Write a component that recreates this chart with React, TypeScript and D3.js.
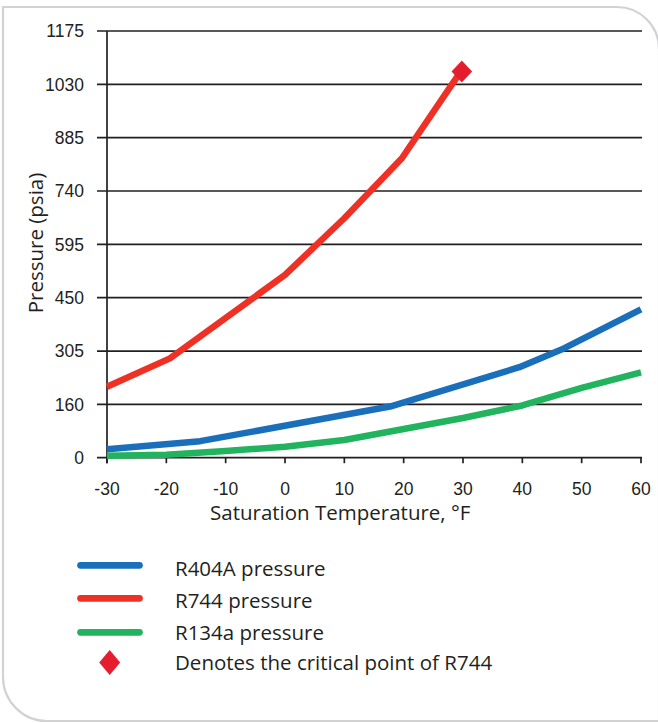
import React, { useEffect, useRef } from 'react'
import * as d3 from 'd3'

// x axis ticks (°F)
const tempTicks = [-30, -20, -10, 0, 10, 20, 30, 40, 50, 60]
// y axis ticks: uniform 145 psia steps, the bottom one is printed as "0"
const pressureTicks = [15, 160, 305, 450, 595, 740, 885, 1030, 1175]
const pressureLabels = ['0', '160', '305', '450', '595', '740', '885', '1030', '1175']

// series
const r404aTemp = [-30, -14.3, 17.7, 39.5, 47, 60]
const r404aPsia = [38, 60, 154, 261, 312, 418]

const r744Temp = [-30, -19.4, 0, 10, 19.7, 29.2]
const r744Psia = [208, 285, 512, 666, 829, 1055]

const r134aTemp = [-30, -20, -10, 0, 10, 20, 30, 40, 50, 60]
const r134aPsia = [20, 23, 33, 45, 63, 93, 123, 157, 205, 247]

const criticalTemp = [29.8]
const criticalPsia = [1065]

const seriesNames = ['R404A pressure', 'R744 pressure', 'R134a pressure']
const seriesColors = ['#1a6fba', '#ee3124', '#22b35e']
const criticalLabel = 'Denotes the critical point of R744'
const criticalColor = '#e41e2f'

const W = 658
const H = 723

const App = () => {
    const svgRef = useRef<SVGSVGElement>(null)

    useEffect(() => {
        const svg: any = d3.select(svgRef.current)
        svg.selectAll('*').remove()

        const x = d3.scaleLinear([-30, 60], [107, 641])
        const y = d3.scaleLinear([15, 1175], [457.7, 31])
        const ink = '#231f20'
        const tickFont = '"Liberation Sans", Arial, sans-serif'
        const textFont = '"Open Sans", sans-serif'

        // card border, rounded at top-right and bottom-left
        svg.append('path')
            .attr('d', 'M3,7 H617 A42,42 0 0 1 659,49 V721 H47 A44,44 0 0 1 3,677 Z')
            .attr('fill', '#fff')
            .attr('stroke', '#d1d2d4')
            .attr('stroke-width', 2.2)

        // horizontal gridlines (with the short tick on the left)
        svg.append('g')
            .selectAll('line')
            .data(pressureTicks)
            .join('line')
            .attr('x1', 97)
            .attr('x2', x(60) + 1)
            .attr('y1', (d: number) => y(d))
            .attr('y2', (d: number) => y(d))
            .attr('stroke', ink)
            .attr('stroke-width', 1.7)

        // y axis line
        svg.append('line')
            .attr('x1', x(-30)).attr('x2', x(-30))
            .attr('y1', y(1175)).attr('y2', y(15) + 5.5)
            .attr('stroke', ink)
            .attr('stroke-width', 1.7)

        // x ticks
        svg.append('g')
            .selectAll('line')
            .data(tempTicks)
            .join('line')
            .attr('x1', (d: number) => x(d))
            .attr('x2', (d: number) => x(d))
            .attr('y1', y(15))
            .attr('y2', y(15) + 5.5)
            .attr('stroke', ink)
            .attr('stroke-width', 1.7)

        // y labels
        svg.append('g')
            .selectAll('text')
            .data(pressureTicks)
            .join('text')
            .attr('x', 84)
            .attr('y', (d: number) => y(d))
            .attr('dy', '0.36em')
            .attr('text-anchor', 'end')
            .attr('font-family', tickFont)
            .attr('font-size', 17.5)
            .attr('fill', ink)
            .text((_: number, i: number) => pressureLabels[i])

        // x labels
        svg.append('g')
            .selectAll('text')
            .data(tempTicks)
            .join('text')
            .attr('x', (d: number) => x(d))
            .attr('y', 495)
            .attr('text-anchor', 'middle')
            .attr('font-family', tickFont)
            .attr('font-size', 17.5)
            .attr('fill', ink)
            .text((d: number) => String(d))

        // axis titles
        svg.append('text')
            .attr('x', 210)
            .attr('y', 520)
            .attr('font-family', textFont)
            .attr('font-size', 20.5)
            .attr('fill', ink)
            .text('Saturation Temperature, °F')

        svg.append('text')
            .attr('transform', 'translate(43,243) rotate(-90)')
            .attr('text-anchor', 'middle')
            .attr('font-family', textFont)
            .attr('font-size', 20.5)
            .attr('fill', ink)
            .text('Pressure (psia)')

        // series lines
        const series = [
            r404aTemp.map((t, i) => [t, r404aPsia[i]]),
            r744Temp.map((t, i) => [t, r744Psia[i]]),
            r134aTemp.map((t, i) => [t, r134aPsia[i]]),
        ]
        const line = d3.line<number[]>()
            .x(d => x(d[0]))
            .y(d => y(d[1]))

        svg.append('g')
            .selectAll('path')
            .data(series)
            .join('path')
            .attr('d', (d: number[][]) => line(d))
            .attr('fill', 'none')
            .attr('stroke', (_: any, i: number) => seriesColors[i])
            .attr('stroke-width', 6.5)
            .attr('stroke-linejoin', 'round')

        // critical point diamond
        const diamond = (w: number, h: number) =>
            `M0,${-h / 2} L${w / 2},0 L0,${h / 2} L${-w / 2},0 Z`

        svg.append('g')
            .selectAll('path')
            .data(criticalTemp.map((t, i) => [t, criticalPsia[i]]))
            .join('path')
            .attr('transform', (d: number[]) => `translate(${x(d[0])},${y(d[1])})`)
            .attr('d', diamond(20.5, 22))
            .attr('fill', criticalColor)

        // legend
        const legendLineY = [565.3, 598.3, 632.3]
        const legendTextY = [576, 608.3, 640, 670]
        const legend = svg.append('g')

        legend.selectAll('line')
            .data(seriesNames)
            .join('line')
            .attr('x1', 80.5)
            .attr('x2', 139.5)
            .attr('y1', (_: string, i: number) => legendLineY[i])
            .attr('y2', (_: string, i: number) => legendLineY[i])
            .attr('stroke', (_: string, i: number) => seriesColors[i])
            .attr('stroke-width', 6.7)
            .attr('stroke-linecap', 'round')

        legend.append('path')
            .attr('transform', 'translate(109.7,662.5)')
            .attr('d', diamond(21, 25))
            .attr('fill', criticalColor)

        legend.selectAll('text')
            .data([...seriesNames, criticalLabel])
            .join('text')
            .attr('x', 175)
            .attr('y', (_: string, i: number) => legendTextY[i])
            .attr('font-family', textFont)
            .attr('font-size', 20.5)
            .attr('fill', ink)
            .text((d: string) => d)
    }, [])

    return (
        <svg
            ref={svgRef}
            width={W}
            height={H}
            style={{ position: 'absolute', left: 0, top: 0, background: '#fff' }}
        ></svg>
    )
}

export default App
